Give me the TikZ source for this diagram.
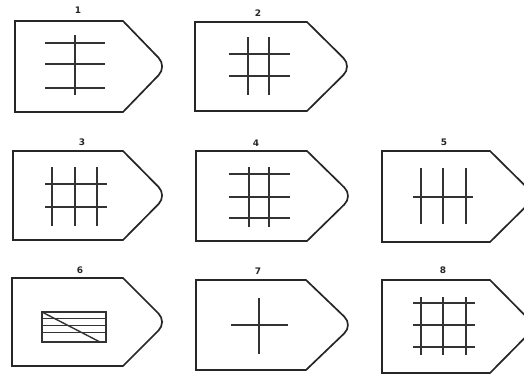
\documentclass[tikz,border=0pt]{standalone}
\usepackage{fontspec}
\setmainfont{DejaVu Sans}
\tikzset{
  outline/.style={line width=1.7pt, draw=black!85, line join=miter},
  grid/.style={line width=1.4pt, draw=black!80},
  lbl/.style={font=\fontsize{9}{9}\selectfont\bfseries, text=black!85, inner sep=0pt}
}
\newcommand\tagshape[6]{% name, L, T, B, C, X
  \draw[outline] (#2,#3) -- (#5,#3) [rounded corners=12pt] -- (#6,{(#3+#4)/2}) [sharp corners] -- (#5,#4) -- (#2,#4) -- cycle;
}
\begin{document}
\begin{tikzpicture}[x=1pt,y=-1pt]
\useasboundingbox (0,0) rectangle (524,375);
\clip (0,0) rectangle (524,375);
% shapes
\tagshape{s1}{15}{21}{112}{123}{167}
\tagshape{s2}{195}{22}{111}{307}{352}
\tagshape{s3}{13}{151}{240}{123}{167}
\tagshape{s4}{196}{151}{241}{307}{353}
\tagshape{s5}{382}{151}{242}{490}{536}
\tagshape{s6}{12}{278}{366}{123}{167}
\tagshape{s7}{196}{280}{370}{306}{353}
\tagshape{s8}{382}{280}{373}{490}{536}
% labels
\node[lbl] (l1) at (78,10) {1};
\node[lbl] (l2) at (258,13) {2};
\node[lbl] (l3) at (82,142) {3};
\node[lbl] (l4) at (256,143) {4};
\node[lbl] (l5) at (444,142) {5};
\node[lbl] (l6) at (80,270) {6};
\node[lbl] (l7) at (258,271) {7};
\node[lbl] (l8) at (443,270) {8};
% 1
\draw[grid] (75,35) -- (75,95);
\foreach \y in {43,64,88} \draw[grid] (45,\y) -- (105,\y);
% 2
\foreach \x in {248,269} \draw[grid] (\x,37) -- (\x,95);
\foreach \y in {54,76} \draw[grid] (229,\y) -- (290,\y);
% 3
\foreach \x in {52,75,97} \draw[grid] (\x,167) -- (\x,226);
\foreach \y in {184,207} \draw[grid] (45,\y) -- (107,\y);
% 4
\foreach \x in {249,269} \draw[grid] (\x,167) -- (\x,227);
\foreach \y in {174,197,218} \draw[grid] (229,\y) -- (290,\y);
% 5
\foreach \x in {421,443,466} \draw[grid] (\x,168) -- (\x,224);
\draw[grid] (413,197) -- (473,197);
% 6
\draw[grid] (42,312) rectangle (106,342);
\foreach \y in {318,325,332} \draw[grid, line width=1pt] (42,\y) -- (106,\y);
\draw[grid] (42,312) -- (100,342);
% 7
\draw[grid] (259,298) -- (259,354);
\draw[grid] (231,325) -- (288,325);
% 8
\foreach \x in {421,443,466} \draw[grid] (\x,297) -- (\x,355);
\foreach \y in {303,325,347} \draw[grid] (413,\y) -- (475,\y);
\end{tikzpicture}
\end{document}
